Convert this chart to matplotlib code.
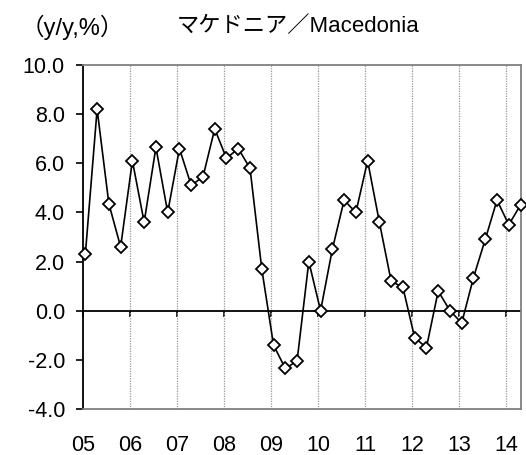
import matplotlib
matplotlib.use("Agg")
import matplotlib.pyplot as plt

plt.rcParams['font.family'] = ['Liberation Sans', 'Noto Sans CJK JP', 'DejaVu Sans']

start_year = 2005
values = [2.3, 8.2, 4.35, 2.6, 6.1, 3.6, 6.65, 4.0,
          6.6, 5.1, 5.45, 7.4, 6.2, 6.6, 5.8, 1.7,
          -1.4, -2.35, -2.05, 2.0, 0.0, 2.5, 4.5, 4.0,
          6.1, 3.6, 1.2, 0.95, -1.1, -1.5, 0.8, 0.0,
          -0.5, 1.35, 2.9, 4.5, 3.5, 4.3]
year_labels = ['05', '06', '07', '08', '09', '10', '11', '12', '13', '14']
y_ticks = [10.0, 8.0, 6.0, 4.0, 2.0, 0.0, -2.0, -4.0]
title = 'マケドニア／Macedonia'
unit_label = '（y/y,%）'

x = [start_year + i / 4 + 0.05 for i in range(len(values))]
year_pos = [start_year + k for k in range(len(year_labels))]

fig = plt.figure(figsize=(5.26, 4.55), dpi=100)
ax = fig.add_axes([83/526, 1 - 409/455, (521-83)/526, (409-65)/455])

ax.set_ylim(-4, 10)
ax.set_xlim(start_year, x[-1] + 0.01)

for yp in year_pos[1:]:
    ax.axvline(yp, color='#999999', lw=0.9, ls=(0, (1, 1)), zorder=1)

ax.axhline(0, color='black', lw=1.3, zorder=2)

ax.plot(x, values, color='black', lw=1.2, marker='D', ms=6.5,
        mfc='white', mec='black', mew=1.3, zorder=3, clip_on=False)

ax.set_yticks(y_ticks)
ax.set_yticklabels([f'{v:.1f}' for v in y_ticks])
ax.tick_params(axis='y', direction='out', length=5, width=1.2, pad=8,
               labelsize=15.5, color='black')

ax.set_xticks(year_pos)
ax.set_xticklabels(year_labels)
ax.tick_params(axis='x', length=0, pad=19, labelsize=15.5)

for side in ['top', 'right', 'bottom']:
    ax.spines[side].set_color('#808080')
    ax.spines[side].set_linewidth(1.3)
ax.spines['left'].set_color('black')
ax.spines['left'].set_linewidth(1.3)

zero_frac = (0 - (-4)) / (10 - (-4))
sec = ax.secondary_xaxis(zero_frac)
sec.set_xticks(year_pos)
sec.tick_params(axis='x', direction='out', length=4, width=1.2, labelbottom=False,
                color='black')
sec.set_xticklabels([])
sec.spines['bottom'].set_visible(False)

fig.text(72/526, 1 - 27/455, unit_label, ha='center', va='center', fontsize=17)
fig.text(298/526, 1 - 27/455, title, ha='center', va='center', fontsize=16)

fig.savefig('out.png', dpi=100)
